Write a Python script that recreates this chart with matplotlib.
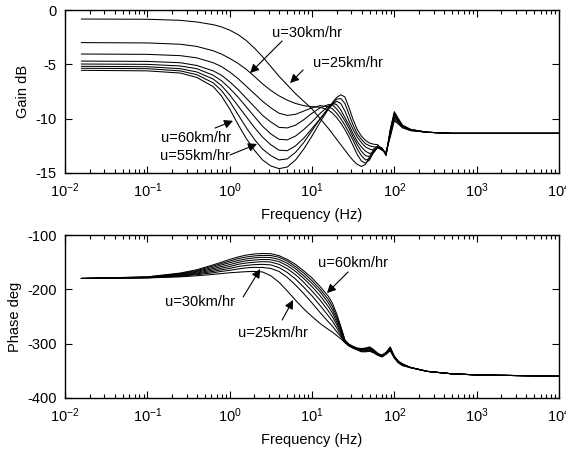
import numpy as np
import matplotlib
matplotlib.use("Agg")
import matplotlib.pyplot as plt

plt.rcParams["font.family"] = ["Liberation Sans", "DejaVu Sans"]
plt.rcParams["axes.unicode_minus"] = False
plt.rcParams["mathtext.default"] = "regular"

# log10 of frequency (Hz) at which the curves were read
freq_exp = [-1.8, -1.0, -0.6, -0.4, -0.2, -0.1,
            0.0, 0.1, 0.2, 0.3, 0.4, 0.5, 0.6, 0.7, 0.8, 0.9,
            1.0, 1.1, 1.2,
            1.25, 1.3, 1.35, 1.4, 1.45, 1.5, 1.55, 1.6, 1.65, 1.7, 1.75,
            1.8, 1.85, 1.9, 1.95, 2.0, 2.05, 2.1,
            2.2, 2.4, 2.7, 3.0, 4.0]

speeds = [25, 30, 35, 40, 45, 50, 55, 60]

# gain (dB)
gain_25 = [-0.83, -0.85, -0.95, -1.1, -1.35, -1.55,
           -1.85, -2.25, -2.8, -3.5, -4.3, -5.2, -6.1, -6.9, -7.7, -8.4,
           -9.1, -10.0, -10.9,
           -11.4, -11.9, -12.4, -12.9, -13.4, -13.85, -14.2, -14.4, -14.2, -13.5, -12.8,
           -12.5, -12.7, -13.4, -11.0, -9.35, -10.0, -10.6,
           -11.0, -11.25, -11.35, -11.35, -11.35]
gain_30 = [-3.0, -3.03, -3.15, -3.35, -3.75, -4.05,
           -4.45, -4.9, -5.45, -6.1, -6.8, -7.4, -7.9, -8.3, -8.6, -8.8,
           -8.9, -8.95, -9.2,
           -9.5, -9.9, -10.4, -11.0, -11.7, -12.5, -13.3, -13.9, -14.1, -13.8, -13.0,
           -12.6, -12.7, -13.35, -11.1, -9.5, -10.1, -10.65,
           -11.0, -11.25, -11.35, -11.35, -11.35]
gain_35 = [-4.05, -4.08, -4.2, -4.4, -4.85, -5.2,
           -5.7, -6.3, -7.0, -7.7, -8.4, -9.0, -9.5, -9.7, -9.6, -9.3,
           -9.0, -8.8, -8.9,
           -9.1, -9.5, -10.0, -10.6, -11.3, -12.0, -12.8, -13.4, -13.8, -13.7, -13.1,
           -12.6, -12.75, -13.3, -11.2, -9.6, -10.15, -10.65,
           -11.0, -11.25, -11.35, -11.35, -11.35]
gain_40 = [-4.7, -4.73, -4.85, -5.1, -5.6, -6.0,
           -6.6, -7.3, -8.1, -8.9, -9.7, -10.3, -10.8, -10.85, -10.6, -10.1,
           -9.5, -9.0, -8.7,
           -8.75, -9.1, -9.6, -10.2, -10.9, -11.7, -12.4, -13.0, -13.4, -13.5, -13.1,
           -12.6, -12.8, -13.25, -11.3, -9.7, -10.2, -10.7,
           -11.05, -11.25, -11.35, -11.35, -11.35]
gain_45 = [-4.97, -5.0, -5.15, -5.4, -6.0, -6.5,
           -7.2, -8.0, -8.9, -9.8, -10.7, -11.4, -11.9, -11.95, -11.6, -11.0,
           -10.3, -9.5, -8.85,
           -8.6, -8.7, -9.2, -9.9, -10.6, -11.4, -12.1, -12.6, -13.0, -13.2, -13.1,
           -12.6, -12.8, -13.2, -11.4, -9.8, -10.25, -10.7,
           -11.05, -11.25, -11.35, -11.35, -11.35]
gain_50 = [-5.18, -5.22, -5.4, -5.7, -6.35, -6.95,
           -7.8, -8.8, -9.8, -10.8, -11.7, -12.4, -12.9, -12.95, -12.5, -11.8,
           -10.9, -10.0, -9.1,
           -8.7, -8.4, -8.6, -9.3, -10.2, -11.0, -11.7, -12.2, -12.6, -12.8, -12.9,
           -12.7, -12.85, -13.15, -11.5, -9.9, -10.3, -10.75,
           -11.05, -11.25, -11.35, -11.35, -11.35]
gain_55 = [-5.36, -5.4, -5.6, -5.95, -6.7, -7.4,
           -8.4, -9.6, -10.8, -11.9, -12.8, -13.4, -13.8, -13.7, -13.1, -12.2,
           -11.1, -10.0, -9.0,
           -8.6, -8.2, -8.15, -8.6, -9.6, -10.6, -11.4, -11.9, -12.3, -12.5, -12.6,
           -12.6, -12.9, -13.1, -11.6, -10.05, -10.4, -10.8,
           -11.1, -11.25, -11.35, -11.35, -11.35]
gain_60 = [-5.55, -5.6, -5.8, -6.2, -7.05, -7.9,
           -9.1, -10.5, -11.8, -12.9, -13.8, -14.35, -14.6, -14.45, -13.8, -12.8,
           -11.6, -10.3, -9.1,
           -8.5, -8.05, -7.8, -8.0, -9.0, -10.1, -11.0, -11.6, -12.0, -12.25, -12.35,
           -12.4, -12.9, -13.05, -11.7, -10.2, -10.5, -10.85,
           -11.1, -11.25, -11.35, -11.35, -11.35]

# phase (deg)
phase_25 = [-180, -179, -177, -175, -172.5, -171,
            -169.5, -168.5, -167.5, -167, -168, -175, -187, -203, -220, -236,
            -250, -263, -274,
            -279, -285, -291, -298, -304.5, -308.5, -311.5, -315, -315, -314, -317,
            -321.5, -324.5, -319.5, -313, -326.5, -335.5, -340.5,
            -344.5, -351, -355.5, -357.5, -360]
phase_30 = [-180, -178.8, -176, -173, -169.5, -167,
            -165, -162.5, -160.5, -159.5, -159.8, -161.5, -167, -178, -192, -208,
            -225, -243, -260,
            -268, -278, -287, -298, -304, -308, -311, -314, -314, -313, -316,
            -321, -324, -319, -312, -326, -335, -340,
            -344, -351, -355.5, -357.5, -360]
phase_35 = [-180, -178.5, -175, -171.5, -167, -164,
            -161.5, -158, -156, -154.5, -154, -155, -160, -169, -181, -196,
            -212, -230, -249,
            -259, -271, -284, -297, -303.5, -307.5, -310.5, -313, -313, -312, -315.5,
            -320.5, -323.5, -318.5, -311, -325.5, -334.5, -339.5,
            -344, -351, -355.5, -357.5, -360]
phase_40 = [-180, -178.2, -174, -170, -164.5, -161,
            -158, -154, -151.5, -150, -149, -149.8, -154, -162, -173, -187,
            -203, -220, -240,
            -251, -265, -280, -297, -303, -307, -310, -312, -312, -311, -315,
            -320, -323, -318, -310, -325, -334, -339,
            -344, -351, -355.5, -357.5, -360]
phase_45 = [-180, -177.9, -173, -168.5, -162, -158,
            -154.5, -150.5, -147.5, -146, -145, -145.5, -149, -156.5, -167, -180,
            -195, -212, -232,
            -244, -260, -277, -296, -302.5, -306.5, -309.5, -311, -311, -309.5, -314,
            -319.5, -322.5, -317.5, -309, -324.5, -333.5, -338.5,
            -344, -351, -355.5, -357.5, -360]
phase_50 = [-180, -177.6, -172, -167, -159.5, -155,
            -151, -147, -144, -142, -141, -141.5, -145, -152, -162, -175,
            -189, -205, -225,
            -238, -255, -274, -295, -302, -306, -309, -310, -310, -308.5, -313,
            -319, -322, -317, -308, -324, -333, -338,
            -344, -351, -355.5, -357.5, -360]
phase_55 = [-180, -177.3, -171, -165.5, -157, -152.5,
            -148, -143.5, -140.5, -138.5, -137.5, -137.8, -141, -148, -158, -170,
            -184, -200, -219,
            -232, -250, -271, -294, -301.5, -305.5, -308.5, -309.5, -309, -307, -312,
            -318.5, -321.5, -316.5, -307, -323.5, -332.5, -337.5,
            -344, -351, -355.5, -357.5, -360]
phase_60 = [-180, -177, -170, -164, -155, -150,
            -145, -140.5, -137, -135, -134, -134.5, -138, -145, -154, -166,
            -179, -195, -213,
            -226, -245, -268, -293, -301, -305, -308, -309, -308, -306, -311,
            -318, -321, -316, -306, -323, -332, -337,
            -344, -351, -355.5, -357.5, -360]

gains = [gain_25, gain_30, gain_35, gain_40, gain_45, gain_50, gain_55, gain_60]
phases = [phase_25, phase_30, phase_35, phase_40, phase_45, phase_50, phase_55, phase_60]

freq = 10.0 ** np.array(freq_exp)

fig = plt.figure(figsize=(5.66, 4.49), dpi=100)
ax1 = fig.add_axes([0.1148, 0.6147, 0.8728, 0.363])
ax2 = fig.add_axes([0.1148, 0.1136, 0.8728, 0.363])

for g in gains:
    ax1.semilogx(freq, g, color="k", lw=0.75)
for p in phases:
    ax2.semilogx(freq, p, color="k", lw=0.75)

for ax in (ax1, ax2):
    ax.set_xlim(1e-2, 1e4)
    ax.set_xticks([1e-2, 1e-1, 1e0, 1e1, 1e2, 1e3, 1e4])
    ax.tick_params(which="both", direction="in", top=True, right=True,
                   labelsize=10.5, width=0.8)
    ax.tick_params(which="major", length=5, pad=6)
    ax.tick_params(which="minor", length=3)
    ax.set_xlabel("Frequency (Hz)", fontsize=10.5, labelpad=6)
    for s in ax.spines.values():
        s.set_linewidth(1.0)

ax1.set_ylim(-15, 0)
ax1.set_yticks([0, -5, -10, -15])
ax1.set_ylabel("Gain dB", fontsize=10.5)
ax2.set_ylim(-400, -100)
ax2.set_yticks([-100, -200, -300, -400])
ax2.set_ylabel("Phase deg", fontsize=10.5)

arrow = dict(arrowstyle="-|>", color="k", lw=0.8, mutation_scale=13,
             shrinkA=0, shrinkB=0)
fs = 10.5

# gain panel labels
ax1.text(8.7, -2.1, "u=30km/hr", ha="center", va="center", fontsize=fs)
ax1.annotate("", xy=(1.77, -5.8), xytext=(4.34, -2.85), arrowprops=arrow)
ax1.text(27.5, -4.88, "u=25km/hr", ha="center", va="center", fontsize=fs)
ax1.annotate("", xy=(5.42, -6.72), xytext=(7.8, -5.52), arrowprops=arrow)
ax1.text(0.39, -11.78, "u=60km/hr", ha="center", va="center", fontsize=fs)
ax1.annotate("", xy=(1.10, -10.2), xytext=(0.665, -10.86), arrowprops=arrow)
ax1.text(0.38, -13.43, "u=55km/hr", ha="center", va="center", fontsize=fs)
ax1.annotate("", xy=(2.15, -12.33), xytext=(1.01, -13.34), arrowprops=arrow)

# phase panel labels
ax2.text(0.437, -223.3, "u=30km/hr", ha="center", va="center", fontsize=fs)
ax2.annotate("", xy=(2.35, -162.6), xytext=(1.46, -214), arrowprops=arrow)
ax2.text(3.37, -280.4, "u=25km/hr", ha="center", va="center", fontsize=fs)
ax2.annotate("", xy=(5.9, -219.6), xytext=(4.34, -256.4), arrowprops=arrow)
ax2.text(31.5, -151.5, "u=60km/hr", ha="center", va="center", fontsize=fs)
ax2.annotate("", xy=(15.2, -206.8), xytext=(27.5, -168), arrowprops=arrow)

fig.savefig("out.png", dpi=100)
